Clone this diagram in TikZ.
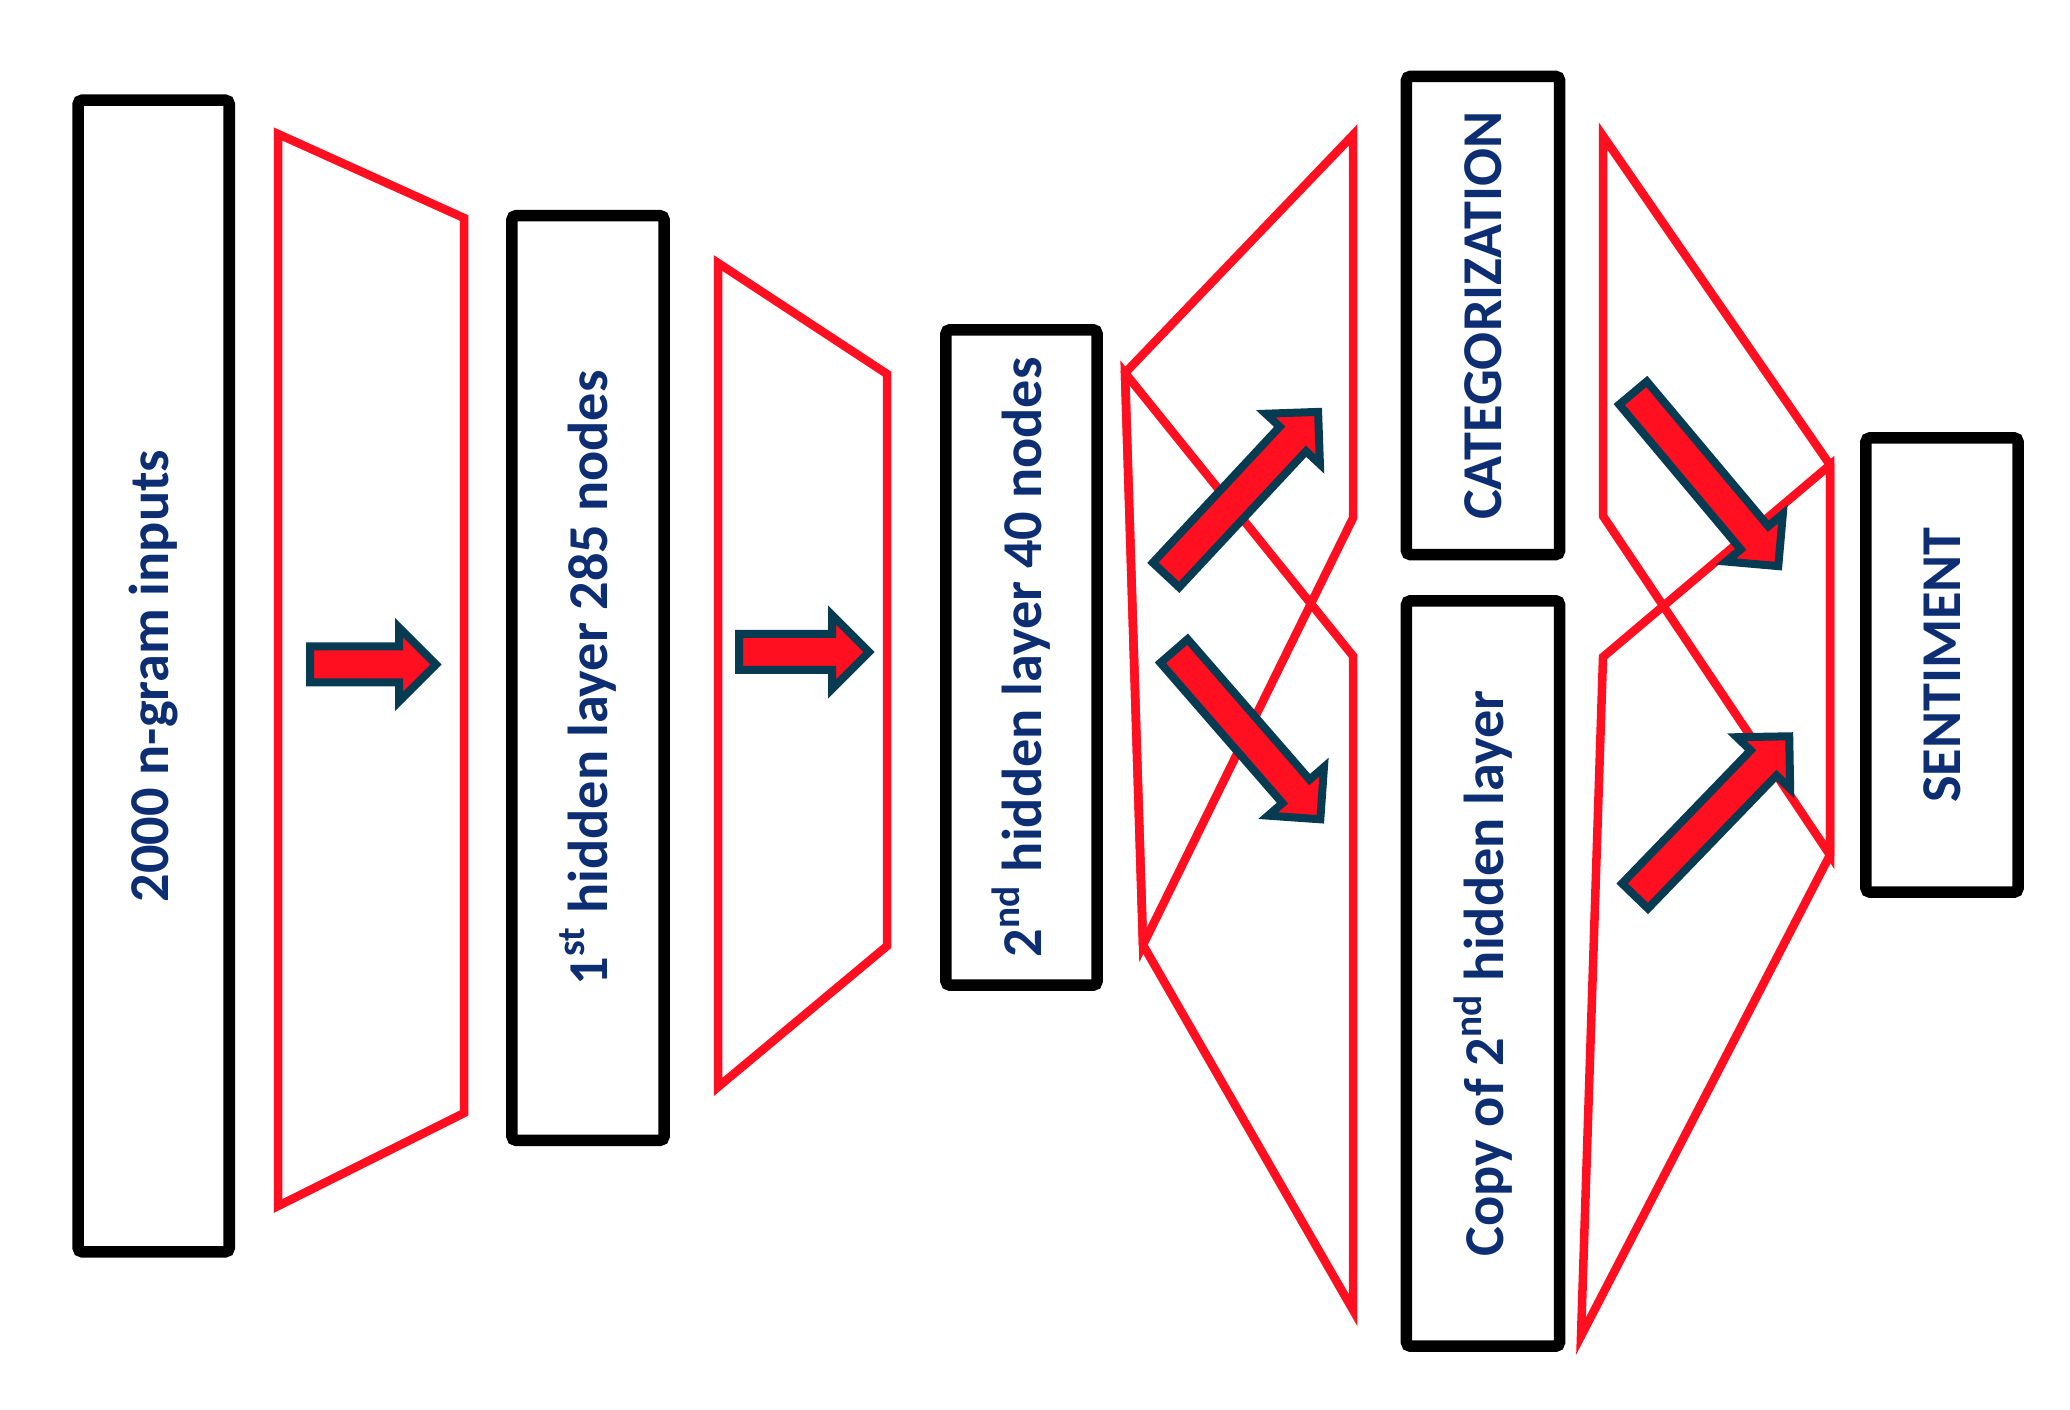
\documentclass[tikz,border=0pt]{standalone}
\usepackage{fontspec}
\setmainfont{Carlito}
\definecolor{netred}{HTML}{FF0F1F}
\definecolor{netblue}{HTML}{0D2E72}
\definecolor{netedge}{HTML}{073B52}

\begin{document}
\begin{tikzpicture}[x=0.01cm,y=-0.01cm,
  layer/.style={draw=black,line width=0.115cm,rounded corners=0.04cm,rotate=90,
    text=netblue,font=\fontsize{16}{19}\selectfont\bfseries,inner sep=0pt},
  link/.style={draw=netred,line width=0.085cm},
  fat/.style={draw=netedge,fill=netred,line width=0.08cm}]
  \useasboundingbox (0,0) rectangle (2070,1410);
  \node[layer,minimum width=11.51cm,minimum height=1.51cm] (inp) at (153.7,676) {2000 n-gram inputs};
  \node[layer,minimum width=9.24cm,minimum height=1.52cm] (hid1) at (588,678) {1\textsuperscript{st} hidden layer 285 nodes};
  \node[layer,minimum width=6.55cm,minimum height=1.51cm] (hid2) at (1021.5,657.5) {2\textsuperscript{nd} hidden layer 40 nodes};
  \node[layer,minimum width=4.78cm,minimum height=1.53cm] (cat) at (1483,315.5) {CATEGORIZATION};
  \node[layer,minimum width=7.45cm,minimum height=1.53cm] (copy) at (1483,973.5) {Copy of 2\textsuperscript{nd} hidden layer};
  \node[layer,minimum width=4.54cm,minimum height=1.52cm] (sent) at (1942,665) {SENTIMENT};

  \draw[link] (278,134) -- (464,218) -- (464,1113) -- (278,1206) -- cycle;
  \draw[link] (718,263) -- (887,374) -- (887,946) -- (718,1087) -- cycle;
  \draw[link] (1125,373) -- (1353,135) -- (1353,518) -- (1143,945) -- cycle;
  \draw[link] (1125,373) -- (1353,656) -- (1353,1310) -- (1143,945) -- cycle;
  \draw[link] (1603,136) -- (1830,465) -- (1830,855) -- (1603,516) -- cycle;
  \draw[link] (1603,657) -- (1830,465) -- (1830,855) -- (1581,1336) -- cycle;

  \foreach \p/\a/\l in {{310,664.5}/0/126,{739,652}/0/130,{1166,575}/47/223,
      {1174,651}/-49/223,{1633,393}/-50/226,{1635,896}/46/222}
    \draw[fat,shift={(\p)},rotate=\a] (0,-18) -- (\l-37,-18) -- (\l-37,-37)
      -- (\l,0) -- (\l-37,37) -- (\l-37,18) -- (0,18) -- cycle;
\end{tikzpicture}
\end{document}
